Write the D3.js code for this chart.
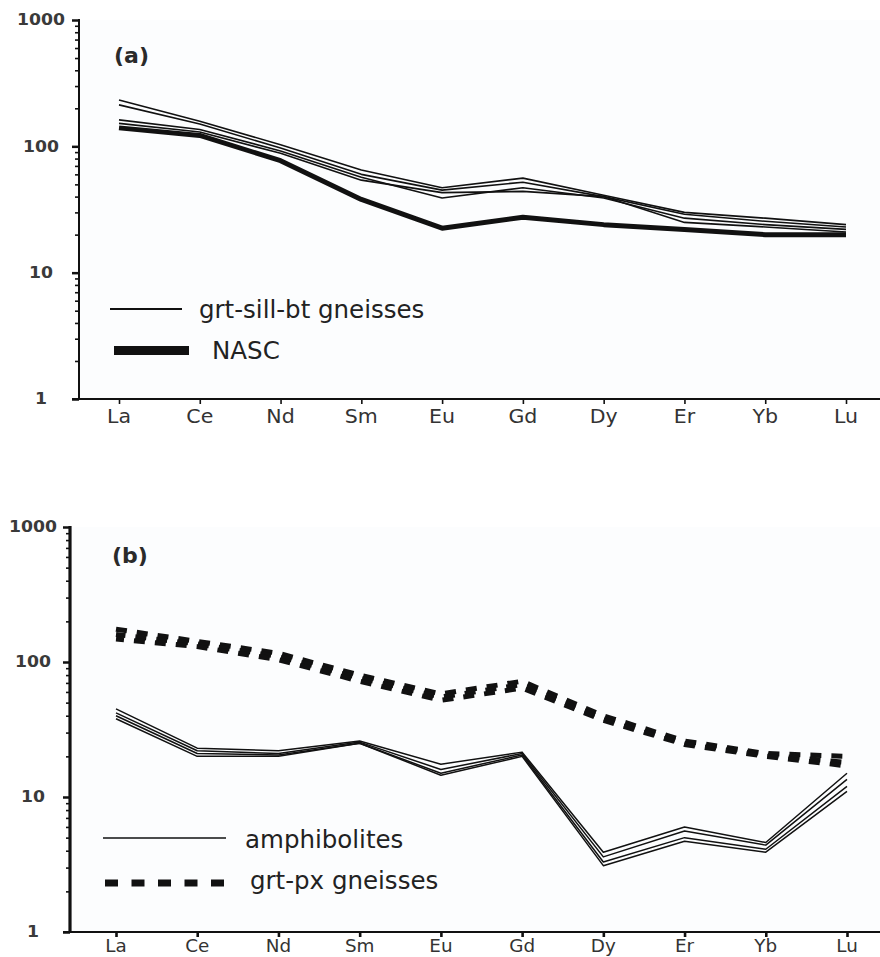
<!DOCTYPE html>
<html>
<head>
<meta charset="utf-8">
<script src="https://cdn.jsdelivr.net/npm/d3@7"></script>
<style>
  html, body { margin: 0; padding: 0; background: #ffffff; }
  svg { display: block; }
  text { font-family: "DejaVu Sans", Verdana, sans-serif; }
</style>
</head>
<body>
<svg id="chart" width="880" height="957"></svg>
<script>
// ---------- DATA ----------
const elements = ["La", "Ce", "Nd", "Sm", "Eu", "Gd", "Dy", "Er", "Yb", "Lu"];
const yTickValues = [1, 10, 100, 1000];
const yTickLabels = ["1", "10", "100", "1000"];

// panel (a): grt-sill-bt gneisses (thin) and NASC (thick)
const gneissA1 = [233, 158, 103, 65, 47, 56, 41, 30, 27, 24];
const gneissA2 = [213, 150, 97, 60, 45, 52, 40, 29, 25.5, 23];
const gneissA3 = [162, 136, 92, 57, 39, 47, 39, 27, 24, 22];
const gneissA4 = [152, 130, 88, 54, 43, 44, 40, 25, 23, 21];
const nasc     = [140, 122, 77, 38, 22.5, 27.5, 24, 22, 20, 20];

// panel (b): amphibolites (thin) and grt-px gneisses (dashed)
const amphib1 = [45, 23, 22, 26, 17.5, 21.5, 3.9, 6.0, 4.6, 15];
const amphib2 = [42, 22, 21, 25.5, 16, 21, 3.6, 5.6, 4.4, 13.5];
const amphib3 = [40, 21, 20.5, 25, 15, 20.5, 3.3, 5.0, 4.1, 12];
const amphib4 = [38, 20, 20, 25, 14.5, 20, 3.1, 4.7, 3.9, 11];
const grtPx1  = [175, 142, 116, 80, 58, 72, 40, 26, 21, 20];
const grtPx2  = [160, 136, 110, 76, 55, 68, 38, 25, 20.5, 18];
const grtPx3  = [148, 130, 104, 72, 52, 64, 37, 24.5, 20, 17];

const legendA = ["grt-sill-bt gneisses", "NASC"];
const legendB = ["amphibolites", "grt-px gneisses"];
const panelLabels = ["(a)", "(b)"];

// ---------- DRAW ----------
const svg = d3.select("#chart");
const ink = "#111";

function minorTicks() {
  const v = [];
  for (let d = 1; d < 1000; d *= 10) for (let k = 2; k <= 9; k++) v.push(d * k);
  return v;
}

function panel(cfg) {
  const g = svg.append("g");
  const x = d3.scalePoint().domain(elements).range([cfg.xFirst, cfg.xLast]);
  const y = d3.scaleLog().domain([1, 1000]).range([cfg.yBottom, cfg.yTop]);

  // faint plot background
  g.append("rect")
    .attr("x", cfg.axisX).attr("y", cfg.yTop)
    .attr("width", 880 - cfg.axisX).attr("height", cfg.yBottom - cfg.yTop)
    .attr("fill", "#fcfdfe");

  // y axis: minor ticks
  const yMinor = g.append("g").attr("transform", `translate(${cfg.axisX},0)`)
    .call(d3.axisLeft(y).tickValues(minorTicks()).tickSize(4).tickFormat(""));
  yMinor.select(".domain").remove();
  yMinor.selectAll("line").attr("stroke", ink).attr("stroke-width", 1.6);
  // y axis: major ticks
  const yMajor = g.append("g").attr("transform", `translate(${cfg.axisX},0)`)
    .call(d3.axisLeft(y).tickValues(yTickValues).tickSize(7).tickFormat(""));
  yMajor.select(".domain").remove();
  yMajor.selectAll("line").attr("stroke", ink).attr("stroke-width", 2.5);
  // y axis line
  g.append("line")
    .attr("x1", cfg.axisX).attr("x2", cfg.axisX)
    .attr("y1", y(1000) - 1).attr("y2", y(1) + 1)
    .attr("stroke", ink).attr("stroke-width", cfg.yAxisW);
  // y labels (centered)
  g.selectAll("text.ylab").data(yTickValues).join("text")
    .attr("class", "ylab")
    .attr("transform", d => `translate(${cfg.yLabX},${y(d)}) scale(1.15,1)`)
    .attr("text-anchor", "middle")
    .attr("dy", "0.36em")
    .attr("font-size", 15).attr("font-weight", "bold")
    .attr("fill", "#3a3a3a")
    .text((d, i) => yTickLabels[i]);

  // x axis
  const xAx = g.append("g").attr("transform", `translate(0,${cfg.yBottom})`)
    .call(d3.axisBottom(x).tickSize(5).tickPadding(6).tickFormat(""));
  xAx.select(".domain").remove();
  xAx.selectAll("line").attr("stroke", ink).attr("stroke-width", cfg.xTickW);
  g.append("line")
    .attr("x1", cfg.axisX - 7).attr("x2", 880)
    .attr("y1", cfg.yBottom).attr("y2", cfg.yBottom)
    .attr("stroke", ink).attr("stroke-width", 2);
  g.selectAll("text.xlab").data(elements).join("text")
    .attr("class", "xlab")
    .attr("transform", d => `translate(${x(d)},${cfg.yBottom + cfg.xLabDy}) scale(1.08,1)`)
    .attr("text-anchor", "middle")
    .attr("font-size", cfg.xLabSize)
    .attr("fill", "#333")
    .text(d => d);

  // panel label
  g.append("text")
    .attr("x", cfg.labX).attr("y", cfg.labY)
    .attr("font-size", 22).attr("font-weight", "bold")
    .attr("fill", "#2a2a2a")
    .text(cfg.label);

  const line = d3.line().x((d, i) => x(elements[i])).y(d => y(d));
  return { g, x, y, line };
}

// ----- Panel (a) -----
const pa = panel({
  axisX: 79, xFirst: 119, xLast: 846, yTop: 20, yBottom: 399,
  yAxisW: 2, xTickW: 1.6, yLabX: 41, xLabDy: 24, xLabSize: 19,
  labX: 114, labY: 63, label: panelLabels[0]
});
[gneissA1, gneissA2, gneissA3, gneissA4].forEach(s => {
  pa.g.append("path").datum(s).attr("d", pa.line)
    .attr("fill", "none").attr("stroke", ink).attr("stroke-width", 1.6)
    .attr("stroke-linejoin", "round");
});
pa.g.append("path").datum(nasc).attr("d", pa.line)
  .attr("fill", "none").attr("stroke", ink).attr("stroke-width", 5)
  .attr("stroke-linejoin", "round");

// legend (a)
pa.g.append("line").attr("x1", 110).attr("x2", 182).attr("y1", 309).attr("y2", 309)
  .attr("stroke", ink).attr("stroke-width", 2);
pa.g.append("text").attr("x", 199).attr("y", 318).attr("font-size", 24.5)
  .attr("fill", "#222").text(legendA[0]);
pa.g.append("line").attr("x1", 114).attr("x2", 189).attr("y1", 350.5).attr("y2", 350.5)
  .attr("stroke", ink).attr("stroke-width", 9);
pa.g.append("text").attr("x", 212).attr("y", 359).attr("font-size", 24.5)
  .attr("fill", "#222").text(legendA[1]);

// ----- Panel (b) -----
const pb = panel({
  axisX: 70, xFirst: 116, xLast: 847, yTop: 527, yBottom: 932,
  yAxisW: 3.2, xTickW: 2.6, yLabX: 33, xLabDy: 20, xLabSize: 17,
  labX: 112, labY: 563, label: panelLabels[1]
});
[amphib1, amphib2, amphib3, amphib4].forEach(s => {
  pb.g.append("path").datum(s).attr("d", pb.line)
    .attr("fill", "none").attr("stroke", ink).attr("stroke-width", 1.5)
    .attr("stroke-linejoin", "round");
});
[grtPx1, grtPx2, grtPx3].forEach((s, i) => {
  pb.g.append("path").datum(s).attr("d", pb.line)
    .attr("fill", "none").attr("stroke", ink).attr("stroke-width", 5)
    .attr("stroke-dasharray", "11,10").attr("stroke-dashoffset", i * 1.5);
});

// legend (b)
pb.g.append("line").attr("x1", 103).attr("x2", 226).attr("y1", 838).attr("y2", 838)
  .attr("stroke", ink).attr("stroke-width", 1.6);
pb.g.append("text").attr("x", 245).attr("y", 848).attr("font-size", 24.5)
  .attr("fill", "#222").text(legendB[0]);
pb.g.append("line").attr("x1", 105).attr("x2", 224).attr("y1", 883).attr("y2", 883)
  .attr("stroke", ink).attr("stroke-width", 7).attr("stroke-dasharray", "13,13.5");
pb.g.append("text").attr("x", 250).attr("y", 889).attr("font-size", 24.5)
  .attr("fill", "#222").text(legendB[1]);
</script>
</body>
</html>
